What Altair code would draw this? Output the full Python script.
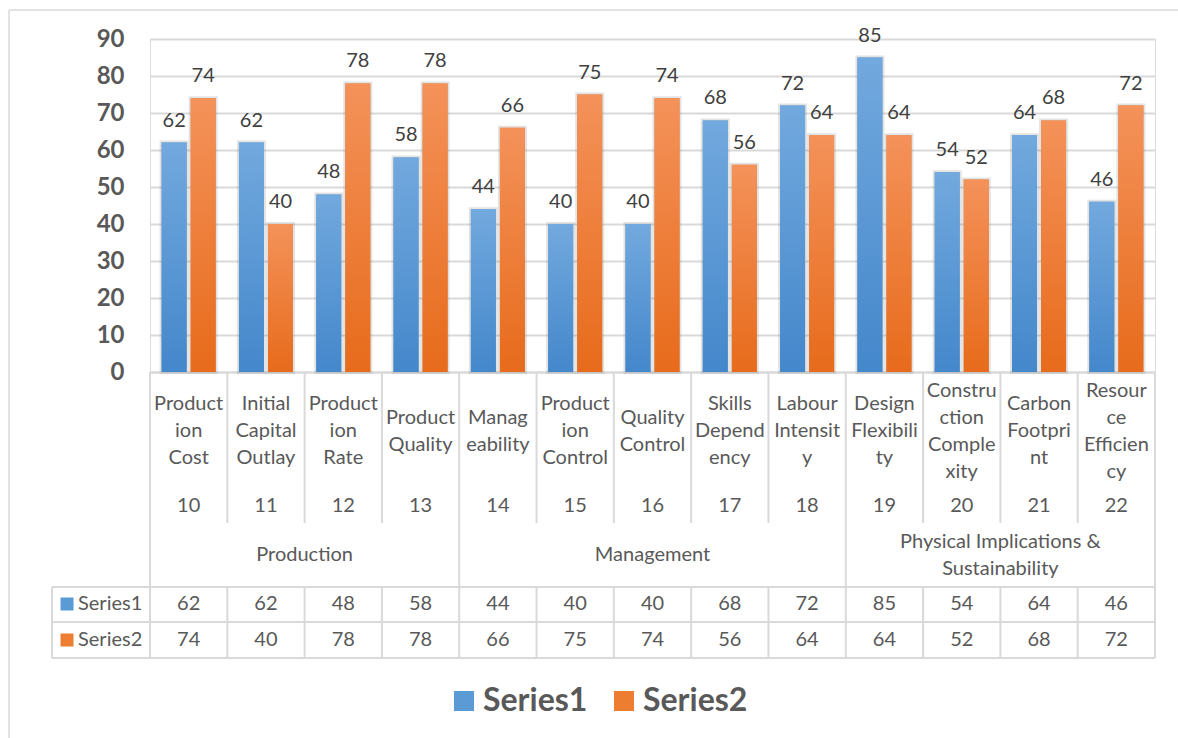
import altair as alt
import pandas as pd

# Criteria codes and their wrapped header labels
codes = ["10", "11", "12", "13", "14", "15", "16", "17", "18", "19", "20", "21", "22"]
labels = [
    "Product\nion\nCost", "Initial\nCapital\nOutlay", "Product\nion\nRate", "Product\nQuality",
    "Manag\neability", "Product\nion\nControl", "Quality\nControl", "Skills\nDepend\nency",
    "Labour\nIntensit\ny", "Design\nFlexibili\nty", "Constru\nction\nComple\nxity",
    "Carbon\nFootpri\nnt", "Resour\nce\nEfficien\ncy",
]
groups = ["Production"] * 4 + ["Management"] * 5 + ["Physical Implications &\nSustainability"] * 4

series_names = ["Series1", "Series2"]
series1 = [62, 62, 48, 58, 44, 40, 40, 68, 72, 85, 54, 64, 46]
series2 = [74, 40, 78, 78, 66, 75, 74, 56, 64, 64, 52, 68, 72]
y_ticks = [0, 10, 20, 30, 40, 50, 60, 70, 80, 90]

# Styling
FONT = "Lato"
GRID = "#D9D9D9"
TXT = "#595959"
flat_colors = ["#5B9BD5", "#ED7D31"]
grad_stops = {
    "Series1": ("#72A9DE", "#4487CB"),
    "Series2": ("#F4925A", "#E76B1B"),
}
W, H = 1005, 333
LINE_H = 27

long = pd.DataFrame(
    [{"code": c, "series": s, "value": v}
     for s, vals in zip(series_names, [series1, series2])
     for c, v in zip(codes, vals)]
)
cats = pd.DataFrame({"code": codes, "label": labels, "group": groups})
cats["group_start"] = cats["group"] != cats["group"].shift(1)
cats["nlines"] = cats["label"].str.count("\n") + 1

x_enc = alt.X("code:N", sort=codes, scale=alt.Scale(paddingInner=0, paddingOuter=0), axis=alt.Axis(
    title=None, labels=False, ticks=False, domain=True, domainColor=GRID, domainWidth=2, grid=False))
xoff = alt.XOffset("series:N", sort=series_names, scale=alt.Scale(paddingInner=0.14, paddingOuter=0.4))
y_enc = alt.Y("value:Q", scale=alt.Scale(domain=[0, 90], nice=False), axis=alt.Axis(
    title=None, values=y_ticks, domain=False, ticks=False, labelPadding=26,
    labelFont=FONT, labelFontSize=24, labelFontWeight="bold", labelColor=TXT,
    gridColor=GRID, gridWidth=2))

base = alt.Chart(long)

# Flat bars with a soft halo underneath; they also carry the legend
shadow = base.mark_bar(stroke="#7F7F7F", strokeOpacity=0.22, strokeWidth=4).encode(
    x=x_enc, xOffset=xoff, y=y_enc,
    color=alt.Color("series:N", sort=series_names,
                    scale=alt.Scale(domain=series_names, range=flat_colors),
                    legend=alt.Legend(
                        title=None, orient="none", legendX=298, legendY=646, direction="horizontal",
                        symbolType="square", symbolSize=400, symbolStrokeWidth=0,
                        labelFont=FONT, labelFontSize=32, labelFontWeight="bold", labelColor=TXT,
                        labelOffset=3, columnPadding=20)),
)

layers = [shadow]
for s in series_names:
    top, bottom = grad_stops[s]
    layers.append(
        base.transform_filter(alt.datum.series == s).mark_bar(
            fill=alt.Gradient(gradient="linear", x1=0, x2=0, y1=0, y2=1,
                              stops=[alt.GradientStop(color=top, offset=0),
                                     alt.GradientStop(color=bottom, offset=1)])
        ).encode(x=x_enc, xOffset=xoff, y=y_enc)
    )

# Value labels above bars
layers.append(
    base.mark_text(font=FONT, fontSize=20, color="#404040", dy=-16, baseline="alphabetic").encode(
        x=x_enc, xOffset=xoff, y=y_enc, text="value:Q")
)

cat_base = alt.Chart(cats)
xc = alt.X("code:N", sort=codes)

# Data table: header labels (each block centred on the same middle line), codes
HEADER_MID = 392
for n in sorted(cats["nlines"].unique()):
    layers.append(cat_base.transform_filter(alt.datum.nlines == int(n)).mark_text(
        font=FONT, fontSize=20, color=TXT, lineBreak="\n", lineHeight=LINE_H, baseline="middle"
    ).encode(x=xc, y=alt.value(HEADER_MID - (int(n) - 1) * LINE_H / 2), text="label:N"))
layers.append(cat_base.mark_text(font=FONT, fontSize=20, color=TXT, baseline="middle").encode(
    x=xc, y=alt.value(467), text="code:N"))

# Group labels, centred across their member columns
GROUP_MID = 516
grp_rows = []
for g in dict.fromkeys(groups):
    members = [c for c, gg in zip(codes, groups) if gg == g]
    grp_rows.append({"group": g, "anchor": members[len(members) // 2],
                     "even": len(members) % 2 == 0, "nlines": g.count("\n") + 1})
grp = pd.DataFrame(grp_rows)
for even, band_pos in [(True, 0), (False, 0.5)]:
    for n in sorted(grp["nlines"].unique()):
        layers.append(
            alt.Chart(grp).transform_filter((alt.datum.even == even) & (alt.datum.nlines == int(n))).mark_text(
                font=FONT, fontSize=20, color=TXT, lineBreak="\n", lineHeight=LINE_H, baseline="middle"
            ).encode(x=alt.X("anchor:N", sort=codes, bandPosition=band_pos),
                     y=alt.value(GROUP_MID - (int(n) - 1) * LINE_H / 2), text="group:N")
        )

# Series rows of the table
row_y = [565, 601]
for s, ry, col in zip(series_names, row_y, flat_colors):
    layers.append(base.transform_filter(alt.datum.series == s).mark_text(
        font=FONT, fontSize=20, color=TXT, baseline="middle").encode(
        x=xc, y=alt.value(ry), text="value:Q"))
    layers.append(alt.Chart(pd.DataFrame({"series": [s]})).mark_text(
        font=FONT, fontSize=20, color=TXT, baseline="middle", align="left").encode(
        x=alt.value(-72), y=alt.value(ry), text="series:N"))
    layers.append(alt.Chart(pd.DataFrame({"series": [s]})).mark_square(
        size=169, color=col, opacity=1).encode(x=alt.value(-83), y=alt.value(ry)))

# Table grid lines
line = dict(color=GRID, strokeWidth=2)
layers.append(cat_base.mark_rule(**line).encode(
    x=alt.X("code:N", sort=codes, bandPosition=0), y=alt.value(333), y2=alt.value(484)))
layers.append(cat_base.mark_rule(**line).encode(
    x=alt.X("code:N", sort=codes, bandPosition=0), y=alt.value(548), y2=alt.value(619)))
layers.append(cat_base.transform_filter(alt.datum.group_start).mark_rule(**line).encode(
    x=alt.X("code:N", sort=codes, bandPosition=0), y=alt.value(484), y2=alt.value(548)))
layers.append(cat_base.transform_filter(alt.datum.code == codes[-1]).mark_rule(**line).encode(
    x=alt.X("code:N", sort=codes, bandPosition=1), y=alt.value(333), y2=alt.value(619)))
for ry in [548, 583, 619]:
    layers.append(alt.Chart(pd.DataFrame({"k": [0]})).mark_rule(**line).encode(
        x=alt.value(-98), x2=alt.value(W), y=alt.value(ry)))
layers.append(alt.Chart(pd.DataFrame({"k": [0]})).mark_rule(**line).encode(
    x=alt.value(-98), y=alt.value(548), y2=alt.value(619)))

# Chart-area frame (top and left edges)
layers.append(alt.Chart(pd.DataFrame({"k": [0]})).mark_rule(color=GRID, strokeWidth=1.5).encode(
    x=alt.value(-141), x2=alt.value(1030), y=alt.value(-29)))
layers.append(alt.Chart(pd.DataFrame({"k": [0]})).mark_rule(color=GRID, strokeWidth=1.5).encode(
    x=alt.value(-141), y=alt.value(-29), y2=alt.value(700)))

chart = alt.layer(*layers).properties(
    width=W, height=H,
    autosize=alt.AutoSizeParams(type="none"),
    padding={"left": 150, "top": 39, "right": 23, "bottom": 366},
).configure_view(stroke=None).configure(background="white")

chart.save("out.html", embed_options={"renderer": "svg", "actions": False})
